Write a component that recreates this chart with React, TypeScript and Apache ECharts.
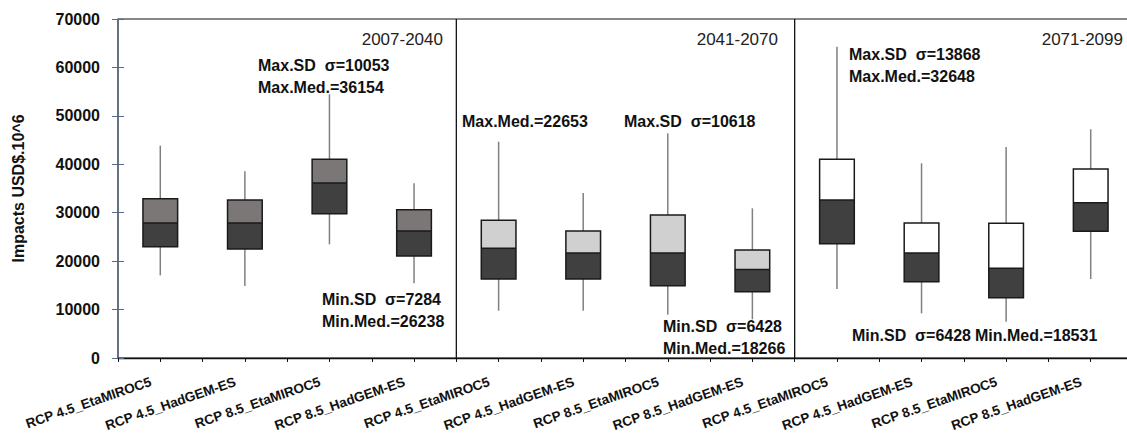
import React, { useEffect, useRef } from "react";
import * as echarts from "echarts";

const categories = [
  "RCP 4.5_EtaMIROC5", "RCP 4.5_HadGEM-ES", "RCP 8.5_EtaMIROC5", "RCP 8.5_HadGEM-ES",
  "RCP 4.5_EtaMIROC5", "RCP 4.5_HadGEM-ES", "RCP 8.5_EtaMIROC5", "RCP 8.5_HadGEM-ES",
  "RCP 4.5_EtaMIROC5", "RCP 4.5_HadGEM-ES", "RCP 8.5_EtaMIROC5", "RCP 8.5_HadGEM-ES",
];
const whiskerLow = [17070, 14870, 23470, 15420, 9770, 9770, 8950, 7990, 14250, 9220, 7500, 16310];
const quartile1 = [22990, 22510, 29800, 21060, 16310, 16310, 14930, 13690, 23600, 15760, 12450, 26150];
const median = [27880, 27880, 36154, 26238, 22653, 21680, 21680, 18266, 32648, 21680, 18531, 32070];
const quartile3 = [32900, 32620, 41030, 30620, 28430, 26220, 29530, 22300, 41030, 27880, 27810, 39030];
const whiskerHigh = [43840, 38550, 54450, 36070, 44670, 34070, 46390, 30910, 64280, 40200, 43570, 47220];
const periodOfBox = [0, 0, 0, 0, 1, 1, 1, 1, 2, 2, 2, 2];
const periodLabels = ["2007-2040", "2041-2070", "2071-2099"];
const periodDividers = [4, 8];
const yTicks = { min: 0, max: 70000, interval: 10000 };

const panelFills = ["#7b7777", "#d0d0d0", "#ffffff"];
const FONT = "'Liberation Sans', Arial, sans-serif";

export default function App() {
  const ref = useRef<HTMLDivElement>(null);
  useEffect(() => {
    document.body.style.margin = "0";
    if (!ref.current) return;
    const chart = echarts.init(ref.current, undefined, { renderer: "svg" });

    const boxData = categories.map((_, i) => [
      i + 0.5, whiskerLow[i], quartile1[i], median[i], quartile3[i], whiskerHigh[i], periodOfBox[i],
    ]);

    const renderBox = (params: any, api: any) => {
      const x = api.value(0);
      const pLow = api.coord([x, api.value(1)]);
      const pQ1 = api.coord([x, api.value(2)]);
      const pMed = api.coord([x, api.value(3)]);
      const pQ3 = api.coord([x, api.value(4)]);
      const pHigh = api.coord([x, api.value(5)]);
      const fill = panelFills[api.value(6)];
      const w = api.size([1, 0])[0] * 0.41;
      const cx = pMed[0];
      const left = cx - w / 2;
      const whisker = { stroke: "#808080", lineWidth: 1.5 };
      return {
        type: "group",
        children: [
          { type: "line", shape: { x1: cx, y1: pHigh[1], x2: cx, y2: pQ3[1] }, style: whisker },
          { type: "line", shape: { x1: cx, y1: pQ1[1], x2: cx, y2: pLow[1] }, style: whisker },
          { type: "rect", shape: { x: left, y: pQ3[1], width: w, height: pMed[1] - pQ3[1] }, style: { fill } },
          { type: "rect", shape: { x: left, y: pMed[1], width: w, height: pQ1[1] - pMed[1] }, style: { fill: "#404040" } },
          { type: "line", shape: { x1: left, y1: pMed[1], x2: left + w, y2: pMed[1] }, style: { stroke: "#1a1a1a", lineWidth: 1.5 } },
          { type: "rect", shape: { x: left, y: pQ3[1], width: w, height: pQ1[1] - pQ3[1] }, style: { fill: "none", stroke: "#1a1a1a", lineWidth: 1.5 } },
        ],
      };
    };

    const renderDivider = (params: any, api: any) => {
      const x = api.coord([api.value(0), 0])[0];
      const cs = params.coordSys;
      return {
        type: "line",
        shape: { x1: x, y1: cs.y, x2: x, y2: cs.y + cs.height },
        style: { stroke: "#111", lineWidth: 1.3 },
      };
    };

    const bold = { fontFamily: FONT, fontWeight: "bold", fontSize: 16, fill: "#111", textVerticalAlign: "middle" };
    const yearStyle = { fontFamily: FONT, fontSize: 17, fill: "#222", textAlign: "right", textVerticalAlign: "middle" };
    const annotations: [string, number, number][] = [
      ["Max.SD  σ=10053", 258, 65],
      ["Max.Med.=36154", 258, 87],
      ["Min.SD  σ=7284", 322, 299],
      ["Min.Med.=26238", 322, 321],
      ["Max.Med.=22653", 462, 121],
      ["Max.SD  σ=10618", 624, 121],
      ["Min.SD  σ=6428", 663, 326],
      ["Min.Med.=18266", 663, 348],
      ["Max.SD  σ=13868", 849, 54],
      ["Max.Med.=32648", 849, 76],
      ["Min.SD  σ=6428", 852, 335],
      ["Min.Med.=18531", 975, 335],
    ];
    const yearPos: [number, number][] = [[443, 39], [778, 39], [1123, 39]];

    const graphic: any[] = [
      ...annotations.map(([text, x, y]) => ({ type: "text", x, y, style: { ...bold, text } })),
      ...periodLabels.map((text, i) => ({ type: "text", x: yearPos[i][0], y: yearPos[i][1], style: { ...yearStyle, text } })),
    ];

    chart.setOption({
      animation: false,
      textStyle: { fontFamily: FONT },
      grid: {
        left: 118, top: 19, width: 1015, height: 339, outerBoundsMode: "none", containLabel: false,
        show: true, borderColor: "#111", borderWidth: 1, backgroundColor: "transparent",
      },
      xAxis: [
        {
          type: "value", min: 0, max: 12, interval: 0.5, position: "bottom",
          axisLine: { show: true, lineStyle: { color: "#111", width: 1.3 } },
          axisTick: { show: true, length: 4, lineStyle: { color: "#111" } },
          axisLabel: { show: false }, splitLine: { show: false },
        },
        {
          type: "category", data: categories, position: "bottom",
          axisLine: { show: false }, axisTick: { show: false }, splitLine: { show: false },
          axisLabel: {
            interval: 0, rotate: 19, margin: 20, padding: [0, 10, 0, 0], hideOverlap: false,
            fontSize: 13.5, fontWeight: "bold", color: "#111", fontFamily: FONT,
          },
        },
      ],
      yAxis: [
        {
          type: "value", ...yTicks, position: "left",
          name: "Impacts USD$.10^6", nameLocation: "middle", nameGap: 92, nameRotate: 90,
          nameTextStyle: { fontSize: 16, fontWeight: "bold", color: "#111", fontFamily: FONT },
          axisLine: { show: true, lineStyle: { color: "#5b6a86", width: 1.5 } },
          axisTick: { show: true, length: 6, lineStyle: { color: "#5b6a86" } },
          axisLabel: { margin: 18, fontSize: 16, fontWeight: "bold", color: "#111", fontFamily: FONT, formatter: (v: number) => String(v) },
          splitLine: { show: false },
        },
        {
          type: "value", ...yTicks, position: "left",
          axisLine: { show: false },
          axisTick: { show: true, inside: true, length: 6, lineStyle: { color: "#5b6a86" } },
          axisLabel: { show: false }, splitLine: { show: false },
        },
      ],
      series: [
        {
          type: "custom", xAxisIndex: 0, yAxisIndex: 0, renderItem: renderBox,
          encode: { x: 0, y: [1, 2, 3, 4, 5] }, data: boxData, silent: true,
        },
        {
          type: "custom", xAxisIndex: 0, yAxisIndex: 0, renderItem: renderDivider,
          encode: { x: 0, y: 1 }, data: periodDividers.map((d) => [d, 0]), silent: true,
        },
      ],
      graphic,
    });
    return () => chart.dispose();
  }, []);
  return <div ref={ref} style={{ width: 1127, height: 434 }} />;
}
